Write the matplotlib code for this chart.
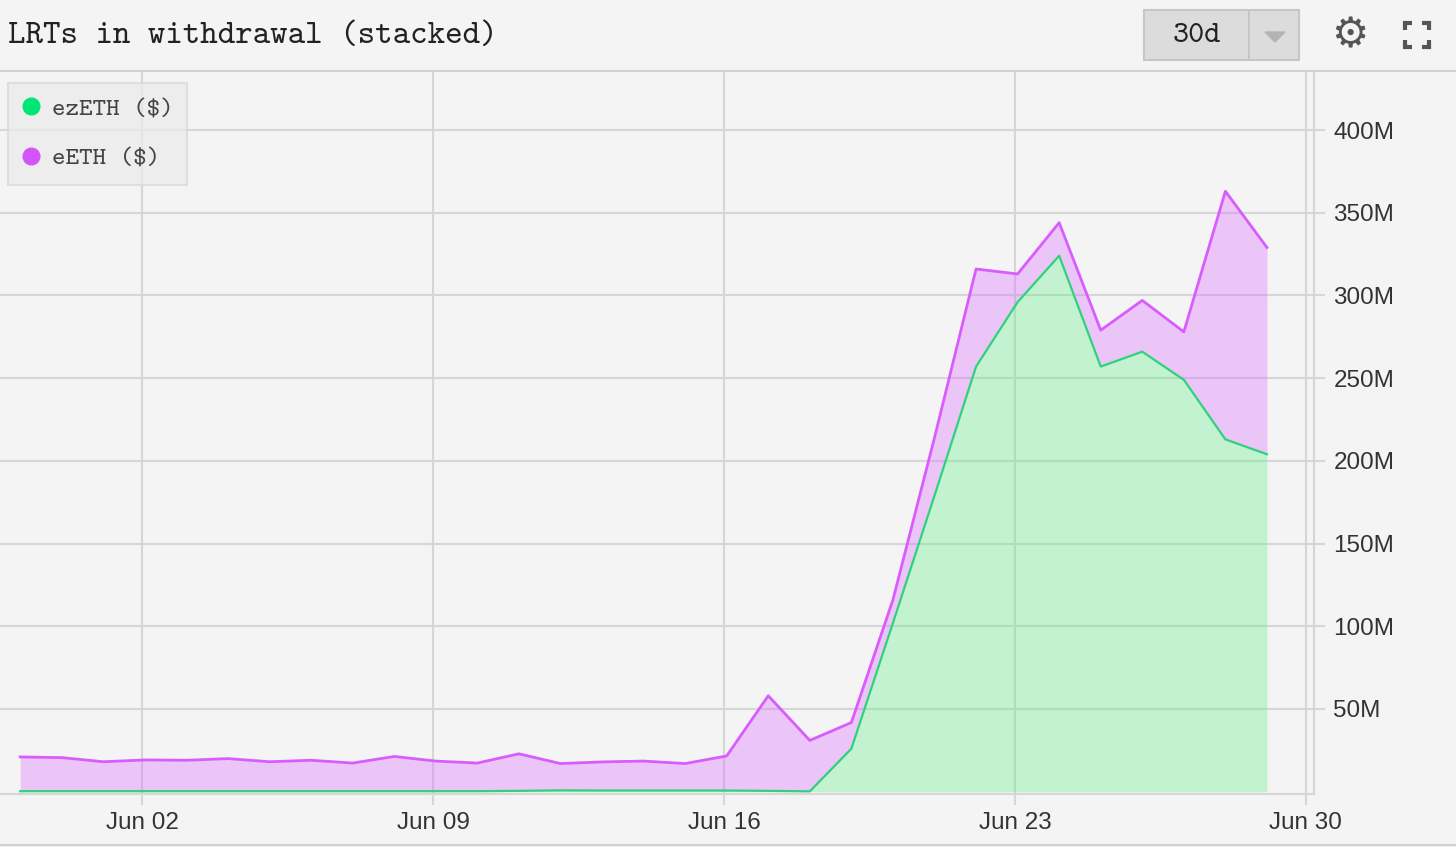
import pandas as pd
import matplotlib.pyplot as plt
import matplotlib.dates as mdates
from matplotlib.lines import Line2D
from matplotlib.patches import Rectangle, Polygon
from matplotlib.ticker import FuncFormatter

# Daily values, May 30 -> Jun 29 (USD millions)
dates = pd.date_range("2024-05-30 01:30", periods=31, freq="D")
ezeth = [0.3, 0.3, 0.3, 0.3, 0.3, 0.3, 0.3, 0.3, 0.3, 0.3, 0.3, 0.3, 0.5, 0.8, 0.7, 0.7,
         0.7, 0.7, 0.5, 0.2, 26, 102, 179, 257, 296, 324, 257, 266, 249, 213, 204]
total = [21, 20.6, 18.1, 19.2, 19, 20, 18.1, 19, 17.3, 21.3, 18.5, 17.3, 22.9, 17, 18, 18.5,
         17, 21.6, 58, 31, 41.8, 116, 214, 316, 313, 344, 279, 297, 278, 363, 329]
eeth = [t - e for t, e in zip(total, ezeth)]

series_names = ["ezETH ($)", "eETH ($)"]
y_ticks = [50, 100, 150, 200, 250, 300, 350, 400]
x_ticks = ["2024-06-02", "2024-06-09", "2024-06-16", "2024-06-23", "2024-06-30"]

W, H = 1456, 847
bg = "#f4f4f4"
grid_c = "#d6d6d6"
mono = ["cmtt10", "DejaVu Sans Mono"]
green_line, green_fill = "#2fd27c", (101/255, 241/255, 138/255)
purple_line, purple_fill = "#d95cff", (221/255, 110/255, 255/255)

fig = plt.figure(figsize=(W / 100, H / 100), dpi=100, facecolor=bg)
ax = fig.add_axes([0, 1 - 794 / H, 1314 / W, (794 - 71) / H], facecolor=bg)

ez = [v * 1e6 for v in ezeth]
stack = [(a + b) * 1e6 for a, b in zip(ezeth, eeth)]

ax.fill_between(dates, 0, ez, color=green_fill, alpha=0.35, linewidth=0)
ax.fill_between(dates, ez, stack, color=purple_fill, alpha=0.35, linewidth=0)
ax.plot(dates, ez, color=green_line, lw=1.6)
ax.plot(dates, stack, color=purple_line, lw=2.0)

# Axes limits and ticks
ax.set_xlim(pd.Timestamp("2024-05-29 13:50"), pd.Timestamp("2024-06-30 04:40"))
ax.set_ylim(-1.4e6, 435.7e6)
ax.set_xticks([pd.Timestamp(d) for d in x_ticks])
ax.xaxis.set_major_formatter(mdates.DateFormatter("%b %d"))
ax.set_yticks([v * 1e6 for v in y_ticks])
ax.yaxis.set_major_formatter(FuncFormatter(lambda v, p: f"{v / 1e6:.0f}M"))
ax.yaxis.tick_right()

ax.grid(True, color=grid_c, lw=1.5)
ax.set_axisbelow(True)
for s in ["top", "left"]:
    ax.spines[s].set_visible(False)
for s in ["bottom", "right"]:
    ax.spines[s].set_color(grid_c)
    ax.spines[s].set_linewidth(1.5)
ax.tick_params(axis="both", colors=grid_c, width=1.5, length=8, labelcolor="#333333",
               labelsize=17.5)
ax.tick_params(axis="y", pad=6)
ax.tick_params(axis="x", pad=5)
for lbl in ax.get_xticklabels() + ax.get_yticklabels():
    lbl.set_family("Liberation Sans")

# Legend
handles = [Line2D([], [], ls="none", marker="o", ms=12, color="#00e676"),
           Line2D([], [], ls="none", marker="o", ms=12, color="#d455f7")]
leg = fig.legend(handles, series_names, loc="upper left",
                 bbox_to_anchor=(8 / W, 1 - 83 / H), bbox_transform=fig.transFigure,
                 borderaxespad=0, fancybox=False, framealpha=0.75, facecolor="#ebebeb",
                 edgecolor="#d8d8d8", handletextpad=0.45, labelspacing=1.0,
                 borderpad=0.55, handlelength=0.7,
                 prop={"family": mono, "size": 18.5})
for t in leg.get_texts():
    t.set_color("#444444")
leg.get_frame().set_linewidth(1.5)

# Header
fig.text(8 / W, 1 - 36 / H, "LRTs in withdrawal (stacked)", fontsize=24, va="center",
         family=mono, color="#222222")
fig.add_artist(Line2D([0, 1], [1 - 71 / H] * 2, color="#d2d2d2", lw=1.5))
fig.add_artist(Line2D([0, 1], [1 - 845 / H] * 2, color="#d2d2d2", lw=1.5))

# 30d selector
fig.add_artist(Rectangle((1144 / W, 1 - 60 / H), 155 / W, 50 / H, facecolor="#dcdcdc",
                         edgecolor="#c6c6c6", lw=1.5, transform=fig.transFigure))
fig.add_artist(Line2D([1249 / W] * 2, [1 - 11 / H, 1 - 59 / H], color="#c6c6c6", lw=1.5))
fig.text(1197 / W, 1 - 36 / H, "30d", fontsize=22, ha="center", va="center",
         family=mono, color="#222222")
fig.add_artist(Polygon([(1265 / W, 1 - 32 / H), (1285 / W, 1 - 32 / H), (1275 / W, 1 - 42 / H)],
                       closed=True, color="#b4b4b4", transform=fig.transFigure))

# gear and fullscreen icons
fig.text(1350 / W, 1 - 35 / H, "\u2699", fontsize=30, ha="center", va="center",
         family="DejaVu Sans", color="#555555")
x0, x1, y0, y1, c = 1405, 1429, 23, 47, 7
for xs, ys in [([x0, x0, x0 + c], [y0 + c, y0, y0]), ([x1 - c, x1, x1], [y0, y0, y0 + c]),
               ([x0, x0, x0 + c], [y1 - c, y1, y1]), ([x1 - c, x1, x1], [y1, y1, y1 - c])]:
    fig.add_artist(Line2D([x / W for x in xs], [1 - y / H for y in ys], color="#555555",
                          lw=3, solid_capstyle="butt", solid_joinstyle="miter"))

fig.savefig("out.png", dpi=100, facecolor=bg)
